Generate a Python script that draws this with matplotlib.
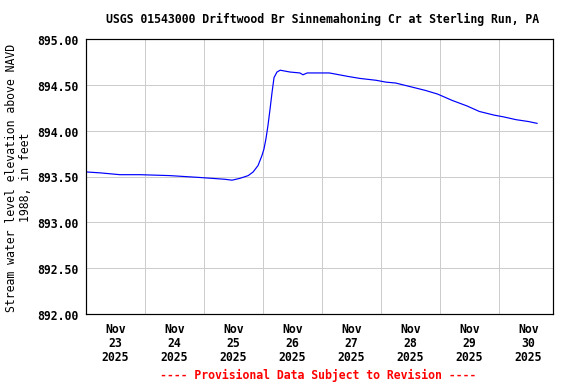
import matplotlib
matplotlib.use('Agg')
import matplotlib.pyplot as plt
import numpy as np

plt.rcParams['font.family'] = ['DejaVu Sans Mono']
plt.rcParams['font.weight'] = 'bold'

title = 'USGS 01543000 Driftwood Br Sinnemahoning Cr at Sterling Run, PA'
ylabel = 'Stream water level elevation above NAVD\n1988, in feet'
footer = '---- Provisional Data Subject to Revision ----'

# hours since Nov 23 2025 00:00
hours = [0, 5.7, 13.8, 22, 34, 46, 56.5, 59.4, 62.6, 66, 68, 70, 71.6, 72.4,
         73.2, 74, 74.9, 75.7, 76.5, 77.7, 79, 81, 83, 87, 88.3, 90, 95, 99,
         103, 107, 111.5, 118, 122, 126, 132, 138, 143, 149, 155, 160, 166,
         170, 175, 180, 183.5]
level = [893.55, 893.54, 893.52, 893.52, 893.51, 893.49, 893.47, 893.46,
         893.48, 893.51, 893.55, 893.62, 893.73, 893.80, 893.91, 894.05,
         894.24, 894.42, 894.58, 894.64, 894.66, 894.65, 894.64, 894.63,
         894.61, 894.63, 894.63, 894.63, 894.61, 894.59, 894.57, 894.55,
         894.53, 894.52, 894.48, 894.44, 894.40, 894.33, 894.27, 894.21,
         894.17, 894.15, 894.12, 894.10, 894.08]

day_labels = ['Nov\n23\n2025', 'Nov\n24\n2025', 'Nov\n25\n2025', 'Nov\n26\n2025',
              'Nov\n27\n2025', 'Nov\n28\n2025', 'Nov\n29\n2025', 'Nov\n30\n2025']
yticks = [892.0, 892.5, 893.0, 893.5, 894.0, 894.5, 895.0]

fs = 11.5

fig = plt.figure(figsize=(8, 5.333), dpi=72)
ax = fig.add_axes([0.1493, 0.1797, 0.8108, 0.7161])

ax.plot(hours, level, color='#0000ff', linewidth=1.2)

ax.set_xlim(0, 190)
ax.set_ylim(892, 895)
ax.set_xticks(np.arange(24, 190, 24))
ax.set_xticklabels([])
ax.set_xticks(np.arange(12, 190, 24), minor=True)
ax.set_xticklabels(day_labels, minor=True, fontsize=fs, linespacing=1.1)
ax.tick_params(axis='x', which='both', length=0, pad=8)
ax.set_yticks(yticks)
ax.set_yticklabels(['%.2f' % v for v in yticks], fontsize=fs)
ax.tick_params(axis='y', length=0, pad=7)
ax.grid(True, which='major', color='#cccccc', linewidth=1)
ax.set_axisbelow(True)
for s in ax.spines.values():
    s.set_linewidth(1.2)

ax.set_ylabel(ylabel, fontsize=fs, linespacing=1.1, labelpad=6)
fig.text(0.56, 0.95, title, ha='center', va='center', fontsize=fs)
fig.text(0.553, 0.023, footer, ha='center', va='center', fontsize=fs, color='red')

fig.savefig('out.png', dpi=72)
